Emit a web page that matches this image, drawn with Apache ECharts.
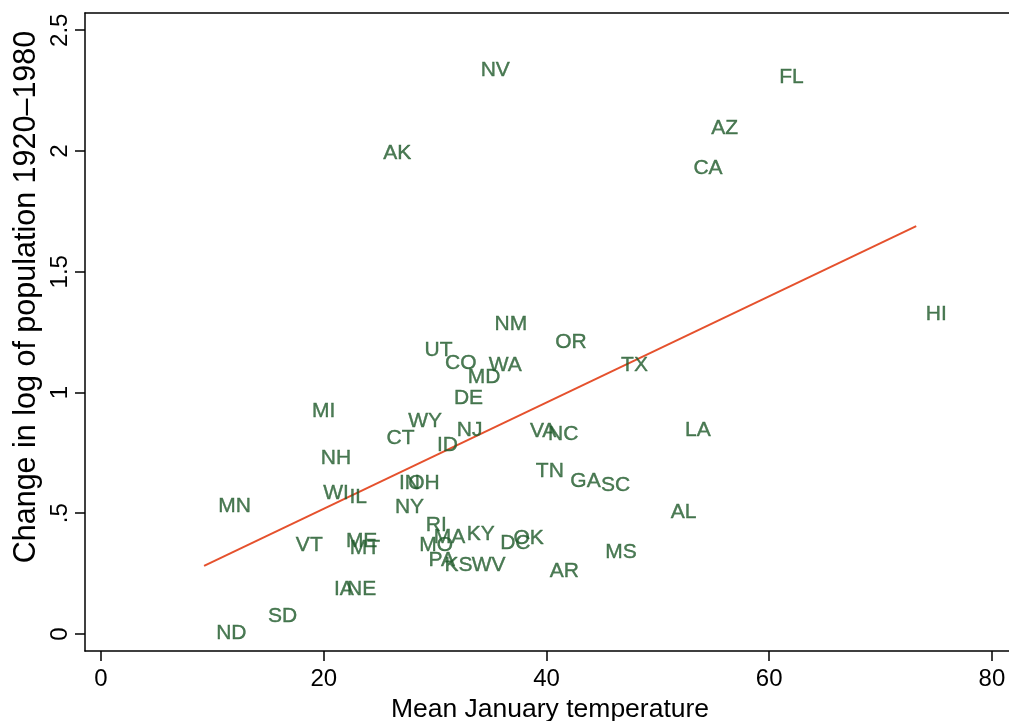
<!DOCTYPE html>
<html>
<head>
<meta charset="utf-8">
<script src="https://cdn.jsdelivr.net/npm/echarts@6/dist/echarts.min.js"></script>
<style>html,body{margin:0;padding:0;background:#fff;overflow:hidden}#c{width:1009px;height:721px}</style>
</head>
<body>
<div id="c"></div>
<script>
// State abbreviations
var states = ['NV','FL','AZ','CA','AK','HI','NM','OR','TX','UT','CO','WA','MD','DE','MI','WY','CT','NJ','ID','VA','NC','LA','NH','TN','GA','SC','IN','OH','WI','IL','MN','NY','AL','RI','MA','KY','OK','DC','VT','ME','MT','MO','MS','PA','KS','WV','AR','IA','NE','SD','ND'];
// Mean January temperature
var janTemp = [35.4,62.0,56.0,54.5,26.6,75.0,36.8,42.2,47.9,30.3,32.3,36.3,34.4,33.0,20.0,29.1,26.9,33.1,31.1,39.7,41.5,53.6,21.1,40.3,43.5,46.2,27.7,29.0,21.1,23.1,12.0,27.7,52.3,30.1,31.3,34.1,38.4,37.2,18.7,23.4,23.7,30.1,46.7,30.6,32.1,34.8,41.6,21.8,23.4,16.3,11.7];
// Change in log of population 1920-1980
var popChange = [2.335,2.306,2.095,1.930,1.990,1.325,1.284,1.209,1.114,1.176,1.122,1.114,1.064,0.977,0.923,0.882,0.812,0.845,0.783,0.841,0.828,0.845,0.729,0.675,0.634,0.617,0.625,0.625,0.584,0.567,0.530,0.526,0.505,0.451,0.402,0.414,0.398,0.377,0.369,0.385,0.356,0.369,0.340,0.306,0.286,0.286,0.261,0.186,0.186,0.075,0.004];
// Fitted regression line endpoints
var fitX = [9.25, 73.2];
var fitY = [0.282, 1.689];
var xTicks = [0, 20, 40, 60, 80];
var yTicks = [0, 0.5, 1, 1.5, 2, 2.5];

var pts = states.map(function(s,i){ return {name:s, value:[janTemp[i], popChange[i]]}; });
var fit = fitX.map(function(x,i){ return [x, fitY[i]]; });

var chart = echarts.init(document.getElementById('c'), null, {renderer:'canvas'});
var FF = 'Liberation Sans, Arial, sans-serif';
var tickFont = {fontFamily:FF, fontSize:24, color:'#000'};
var XMIN = -1.44, XMAX = 82.07;
chart.setOption({
  animation:false,
  backgroundColor:'#fff',
  grid:{left:85, right:-6, top:13, bottom:70, containLabel:false, outerBoundsMode:'none', show:false},
  xAxis:[{
    type:'value', min:XMIN, max:XMAX,
    axisLine:{show:true, onZero:false, lineStyle:{color:'#000', width:1.5}},
    axisTick:{show:true, customValues:xTicks, length:10, lineStyle:{color:'#000', width:1.5}},
    axisLabel:Object.assign({customValues:xTicks, margin:16}, tickFont),
    splitLine:{show:false},
    name:'Mean January temperature', nameLocation:'middle', nameGap:44,
    nameTextStyle:{fontFamily:FF, fontSize:26.5, color:'#000'}
  },{
    type:'value', position:'top', min:XMIN, max:XMAX,
    axisLine:{show:true, onZero:false, lineStyle:{color:'#000', width:1.5}},
    axisTick:{show:false}, axisLabel:{show:false}, splitLine:{show:false}
  }],
  yAxis:{
    type:'value', min:-0.0704, max:2.5714,
    axisLine:{show:true, onZero:false, lineStyle:{color:'#000', width:1.5}},
    axisTick:{show:true, customValues:yTicks, length:10, lineStyle:{color:'#000', width:1.5}},
    axisLabel:Object.assign({customValues:yTicks, margin:13, rotate:90, formatter:function(v){return String(v).replace(/^0\./,'.');}}, tickFont),
    splitLine:{show:false}
  },
  graphic:[{
    type:'text', x:27, y:297, rotation:Math.PI/2,
    style:{text:'Change in log of population 1920\u20131980', font:'30.5px ' + FF, fill:'#000', textAlign:'center', textVerticalAlign:'middle'}
  }],
  series:[
    {type:'scatter', data:pts, symbol:'circle', symbolSize:1, itemStyle:{color:'rgba(0,0,0,0)'},
     label:{show:true, position:'inside', formatter:'{b}', color:'#1f5a2b', fontFamily:FF, fontSize:21,
            textBorderColor:'#1f5a2b', textBorderWidth:0.4},
     z:3},
    {type:'line', data:fit, symbol:'none', lineStyle:{color:'#e5512d', width:2}, z:2}
  ]
});
</script>
</body>
</html>
